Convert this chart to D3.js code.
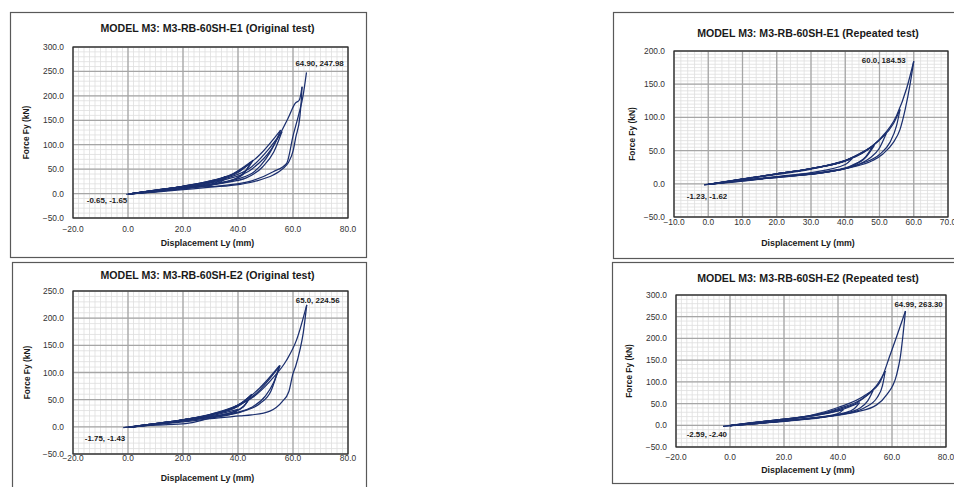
<!DOCTYPE html>
<html>
<head>
<meta charset="utf-8">
<script src="https://cdn.jsdelivr.net/npm/d3@7"></script>
<style>
  body { margin: 0; background: #fff; }
  svg { display: block; font-family: "Liberation Sans", Arial, sans-serif; }
  .title { font-weight: bold; font-size: 10.6px; fill: #1a1a1a; }
  .axisTitle { font-weight: bold; font-size: 8.8px; fill: #1a1a1a; }
  .tick { font-size: 8.4px; fill: #333; }
  .pointLabel { font-weight: bold; font-size: 7.9px; fill: #1a1a1a; }
</style>
</head>
<body>
<script>
// ! Data: [displacement Ly (mm), force Fy (kN)]
const titles = [
  'MODEL M3: M3-RB-60SH-E1 (Original test)',
  'MODEL M3: M3-RB-60SH-E1 (Repeated test)',
  'MODEL M3: M3-RB-60SH-E2 (Original test)',
  'MODEL M3: M3-RB-60SH-E2 (Repeated test)',
];

const e1Original = [
  [-0.65, -1.65],
  [5, 3], [10, 6], [20, 13], [30, 22], [35.5, 35],
  [33, 25], [28, 17], [20, 10], [10, 4], [0, -1],
  [10, 6.5], [20, 14], [30, 24], [36, 34],
  [33, 22], [25, 13], [15, 7], [0, -1],
  [10, 7], [20, 15], [30, 25], [38, 40], [45.5, 68],
  [43, 48], [40, 33], [35, 24], [25, 15], [10, 5], [0, -1],
  [10, 7], [20, 15], [30, 26], [40, 43], [44.5, 63],
  [42, 40], [38, 28], [30, 18], [20, 11], [0, -1],
  [10, 7], [20, 15], [30, 26], [40, 45], [48, 80], [55.5, 130],
  [53, 98], [50, 70], [46, 45], [40, 30], [30, 18], [20, 11], [0, -1],
  [20, 15], [35, 30], [45, 55], [51, 90], [56, 127],
  [53, 85], [49, 55], [43, 32], [35, 22], [20, 11], [0, -1],
  [20, 14], [35, 28], [45, 50], [52, 90], [58.2, 154], [60.8, 184.7], [62.3, 191.5], [63.3, 218.7],
  [63, 190], [62.5, 157], [61, 115], [60.1, 89], [58.5, 65], [57.7, 58.5], [55, 45], [52.8, 38],
  [46.8, 26], [40.7, 19], [30, 13], [20, 8], [10, 3], [0, -1],
  [10, 4], [20, 11], [35, 17], [45, 26], [52.8, 44.8], [57.7, 62], [60.1, 120], [62, 160],
  [63.7, 201.7], [64.9, 247.98],
];

const e1Repeated = [
  [-1.23, -1.62],
  [10, 7], [20, 14], [30, 22], [42, 38],
  [40, 29], [30, 17], [20, 11], [10, 5], [0, -1],
  [10, 7], [20, 15], [30, 23], [40, 34], [48, 56],
  [46, 41], [42, 28], [35, 19], [25, 13], [10, 5], [0, -1],
  [10, 7.5], [20, 15], [30, 23], [40, 35], [48.5, 58],
  [46, 40], [42, 27], [35, 18], [20, 10], [0, -1],
  [10, 7], [20, 15], [30, 23], [40, 35], [45, 46], [52, 76],
  [50, 54], [47, 38], [42, 26], [35, 18], [25, 12], [10, 5], [0, -1],
  [10, 7], [20, 15], [30, 23], [40, 35], [50, 66], [54, 90], [56, 112],
  [55, 88], [53, 62], [50, 44], [45, 31], [40, 23], [30, 15], [20, 10], [10, 4], [0, -1],
  [10, 7], [20, 15], [30, 23], [40, 35], [45, 47], [50, 67], [55, 103], [58, 145], [60, 184.53],
  [59, 152], [57.5, 112], [56, 82], [54, 62], [51, 45], [48, 35], [42, 25], [35, 18], [25, 12],
  [10, 5], [-1.2, -1.6],
];

const e2Original = [
  [-1.75, -1.43],
  [10, 6], [20, 12], [30, 20], [40, 32],
  [38, 24], [30, 16], [21, 6], [10, 3], [0, -1],
  [10, 6], [20, 13], [30, 22], [40, 38], [45, 60],
  [43, 43], [40, 31], [35, 23], [25, 15], [10, 5], [0, -1],
  [10, 6], [20, 13], [30, 22], [40, 40], [44.5, 57],
  [42, 37], [38, 27], [30, 19], [20, 11], [0, -1],
  [10, 6], [20, 13], [30, 22], [40, 38], [48, 68], [55.3, 113],
  [53, 82], [50, 57], [45, 36], [40, 27], [30, 18], [20, 11], [0, -1],
  [20, 13], [30, 23], [40, 40], [48, 72], [55, 112],
  [52, 66], [48, 43], [42, 29], [30, 18], [20, 11], [0, -1],
  [10, 6], [20, 13], [30, 23], [40, 40], [45, 53], [52, 86], [57.7, 123], [61.3, 160], [65, 224.56],
  [63.7, 172], [62.5, 141], [61, 112], [60, 98], [58.5, 65], [56, 46], [51.6, 29], [45, 22],
  [40.7, 20], [30, 15], [20, 9], [10, 4], [-1, -1],
];

const e2Repeated = [
  [-2.59, -2.40],
  [10, 7], [20, 13], [30, 21], [42, 36],
  [40, 27], [30, 17], [20, 10], [10, 4], [0, -1],
  [10, 7], [20, 13], [30, 21], [40, 33], [48, 52],
  [46, 38], [42, 28], [35, 19], [25, 12], [10, 4], [0, -1],
  [10, 7], [20, 14], [30, 22], [40, 36], [47, 52], [53, 80],
  [51, 56], [48, 39], [42, 27], [30, 16], [20, 10], [0, -1],
  [10, 7], [20, 14], [30, 22], [40, 38], [50, 66], [55, 98], [57.5, 125],
  [56.5, 92], [54.5, 64], [50, 41], [44, 28], [30, 16], [20, 10], [0, -1],
  [10, 7], [20, 14], [30, 23], [40, 41], [50, 69], [55.6, 100], [59.3, 162], [64.99, 263.3],
  [63, 154], [61.7, 116], [58, 70], [54.3, 47], [46.9, 31], [40, 24], [30, 16], [20, 10],
  [10, 4], [-2.5, -2.3],
];

// labelled points: [x, y, text]
const maxLabels = [[64.90, 247.98, '64.90, 247.98'], [60.0, 184.53, '60.0, 184.53'],
  [65.0, 224.56, '65.0, 224.56'], [64.99, 263.30, '64.99, 263.30']];
const minLabels = [[-0.65, -1.65, '-0.65, -1.65'], [-1.23, -1.62, '-1.23, -1.62'],
  [-1.75, -1.43, '-1.75, -1.43'], [-2.59, -2.40, '-2.59, -2.40']];

// * Layout of each panel (box, plot area, axis ranges)
const panels = [
  {
    data: e1Original, box: [10, 12, 356, 245], plot: [73, 348, 47, 218],
    xDom: [-20, 80], xStep: 20, xMinor: 2, yDom: [-50, 300], yStep: 50, yMinor: 10,
    titleY: 32, xTitleY: 246, xTickY: 232, yTitleX: 29,
    maxOff: [-11, -6, 'start'], minOff: [1, 9, 'end'],
  },
  {
    data: e1Repeated, box: [613, 12, 345, 246], plot: [674, 948, 51, 217],
    xDom: [-10, 70], xStep: 10, xMinor: 2, yDom: [-50, 200], yStep: 50, yMinor: 5,
    titleY: 37, xTitleY: 246, xTickY: 225, yTitleX: 635,
    maxOff: [-8, 2, 'end'], minOff: [3, 14, 'middle'],
  },
  {
    data: e2Original, box: [12, 262, 354, 230], plot: [73, 348, 291, 454],
    xDom: [-20, 80], xStep: 20, xMinor: 2, yDom: [-50, 250], yStep: 50, yMinor: 10,
    titleY: 279, xTitleY: 481, xTickY: 461, yTitleX: 30,
    maxOff: [-11, -2, 'start'], minOff: [2, 13, 'end'],
  },
  {
    data: e2Repeated, box: [612, 262, 345, 221], plot: [676, 946, 295, 447],
    xDom: [-20, 80], xStep: 20, xMinor: 2, yDom: [-50, 300], yStep: 50, yMinor: 10,
    titleY: 282, xTitleY: 473, xTickY: 460, yTitleX: 632,
    maxOff: [-11, -4, 'start'], minOff: [4, 11, 'end'],
  },
];

const width = 954;
const height = 487;
const svg = d3.select('body').append('svg')
  .attr('width', width)
  .attr('height', height);

// split a path into runs that are monotone in x (load / unload branches)
function branches(points) {
  const runs = [];
  let run = [points[0]];
  let dir = 0;
  for (let i = 1; i < points.length; i += 1) {
    const d = Math.sign(points[i][0] - points[i - 1][0]);
    if (dir !== 0 && d !== dir) {
      runs.push(run);
      run = [points[i - 1]];
    }
    run.push(points[i]);
    dir = d;
  }
  runs.push(run);
  return runs;
}

function range(a, b, step) {
  const n = Math.round((b - a) / step);
  return d3.range(n + 1).map((i) => a + i * step);
}

panels.forEach((p, idx) => {
  const [bx, by, bw, bh] = p.box;
  const [x0, x1, y0, y1] = p.plot;
  const g = svg.append('g');

  g.append('rect')
    .attr('x', bx + 0.5).attr('y', by + 0.5)
    .attr('width', bw).attr('height', bh)
    .attr('fill', '#fff')
    .attr('stroke', '#595959')
    .attr('stroke-width', 1.2);

  const x = d3.scaleLinear().domain(p.xDom).range([x0, x1]);
  const y = d3.scaleLinear().domain(p.yDom).range([y1, y0]);

  // minor grid
  g.append('g').selectAll('line')
    .data(range(p.xDom[0], p.xDom[1], p.xMinor))
    .join('line')
    .attr('x1', (d) => x(d)).attr('x2', (d) => x(d))
    .attr('y1', y0).attr('y2', y1)
    .attr('stroke', '#dedede').attr('stroke-width', 0.8);
  g.append('g').selectAll('line')
    .data(range(p.yDom[0], p.yDom[1], p.yMinor))
    .join('line')
    .attr('y1', (d) => y(d)).attr('y2', (d) => y(d))
    .attr('x1', x0).attr('x2', x1)
    .attr('stroke', '#dedede').attr('stroke-width', 0.8);

  // major grid
  const xTicks = range(p.xDom[0], p.xDom[1], p.xStep);
  const yTicks = range(p.yDom[0], p.yDom[1], p.yStep);
  g.append('g').selectAll('line')
    .data(xTicks)
    .join('line')
    .attr('x1', (d) => x(d)).attr('x2', (d) => x(d))
    .attr('y1', y0).attr('y2', y1)
    .attr('stroke', '#a6a6a6').attr('stroke-width', 1.3);
  g.append('g').selectAll('line')
    .data(yTicks)
    .join('line')
    .attr('y1', (d) => y(d)).attr('y2', (d) => y(d))
    .attr('x1', x0).attr('x2', x1)
    .attr('stroke', '#a6a6a6').attr('stroke-width', 1.3);

  g.append('rect')
    .attr('x', x0).attr('y', y0)
    .attr('width', x1 - x0).attr('height', y1 - y0)
    .attr('fill', 'none')
    .attr('stroke', '#262626')
    .attr('stroke-width', 1.2);

  // tick labels
  g.append('g').selectAll('text')
    .data(xTicks)
    .join('text')
    .attr('class', 'tick')
    .attr('x', (d) => x(d))
    .attr('y', p.xTickY)
    .attr('text-anchor', 'middle')
    .text(d3.format('.1f'));
  g.append('g').selectAll('text')
    .data(yTicks)
    .join('text')
    .attr('class', 'tick')
    .attr('x', x0 - 9)
    .attr('y', (d) => y(d) + 3)
    .attr('text-anchor', 'end')
    .text(d3.format('.1f'));

  // titles
  g.append('text')
    .attr('class', 'title')
    .attr('x', (x0 + x1) / 2 - 3)
    .attr('y', p.titleY)
    .attr('text-anchor', 'middle')
    .text(titles[idx]);
  g.append('text')
    .attr('class', 'axisTitle')
    .attr('x', (x0 + x1) / 2 - 3)
    .attr('y', p.xTitleY)
    .attr('text-anchor', 'middle')
    .text('Displacement Ly (mm)');
  g.append('text')
    .attr('class', 'axisTitle')
    .attr('transform', `translate(${p.yTitleX}, ${(y0 + y1) / 2}) rotate(-90)`)
    .attr('text-anchor', 'middle')
    .style('font-size', '8.4px')
    .text('Force Fy (kN)');

  // hysteresis curve
  const line = d3.line()
    .x((d) => x(d[0]))
    .y((d) => y(d[1]))
    .curve(d3.curveMonotoneX);
  g.append('g').selectAll('path')
    .data(branches(p.data))
    .join('path')
    .attr('d', line)
    .attr('fill', 'none')
    .attr('stroke', '#1b2f6e')
    .attr('stroke-width', 1.25)
    .attr('stroke-linejoin', 'round');

  // point labels
  const mx = maxLabels[idx];
  g.append('text')
    .attr('class', 'pointLabel')
    .attr('x', x(mx[0]) + p.maxOff[0])
    .attr('y', y(mx[1]) + p.maxOff[1])
    .attr('text-anchor', p.maxOff[2])
    .text(mx[2]);
  const mn = minLabels[idx];
  g.append('text')
    .attr('class', 'pointLabel')
    .attr('x', x(mn[0]) + p.minOff[0])
    .attr('y', y(mn[1]) + p.minOff[1])
    .attr('text-anchor', p.minOff[2])
    .text(mn[2]);
});
</script>
</body>
</html>
